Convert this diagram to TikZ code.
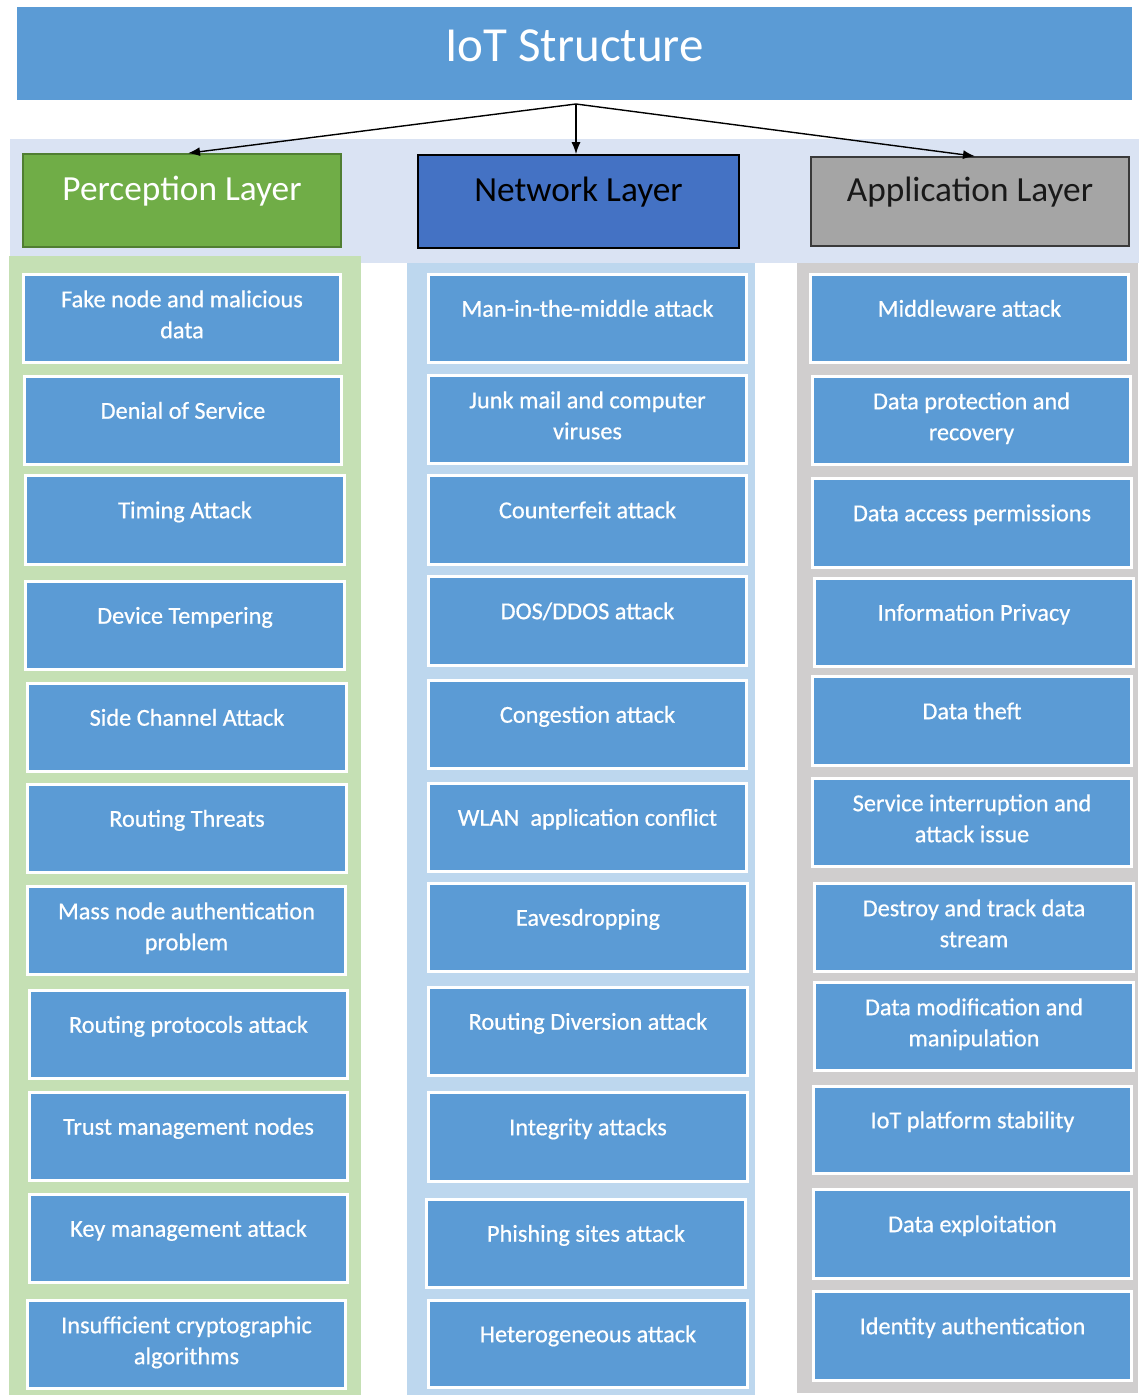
\documentclass[tikz,border=0pt]{standalone}
\usepackage{fontspec}
\setmainfont{Carlito}
\newfontfamily\boxfont{Carlito}[FakeBold=0.6]
\usetikzlibrary{arrows.meta}

\definecolor{titleblue}{HTML}{5B9BD5}
\definecolor{bandblue}{HTML}{DAE3F3}
\definecolor{colgreen}{HTML}{C5E0B4}
\definecolor{colblue}{HTML}{BDD7EE}
\definecolor{colgray}{HTML}{D0CECE}
\definecolor{percgreen}{HTML}{70AD47}
\definecolor{percedge}{HTML}{507E32}
\definecolor{netblue}{HTML}{4472C4}
\definecolor{appgray}{HTML}{A5A5A5}
\definecolor{appedge}{HTML}{3A3A3A}

\tikzset{
  atkbox/.style={draw=white, line width=3pt, fill=titleblue, inner sep=0pt},
  atktext/.style={text=white, align=center, inner sep=0pt,
    font=\boxfont\fontsize{24.3}{31}\selectfont},
  layerbox/.style={line width=1.6pt, inner sep=0pt},
  layertext/.style={align=center, inner sep=0pt,
    font=\fontsize{35.3}{40}\selectfont},
  link/.style={draw=black, line width=1.4pt, -{Latex[length=12pt,width=9pt]}}
}

% name, x1, y1, x2, y2, text, upward shift of the text
\newcommand\atk[7]{%
  \node[atkbox, minimum width={(#4-#2-3)*1pt}, minimum height={(#5-#3-3)*1pt}]
    (#1) at ({(#2+#4)/2},{(#3+#5)/2}) {};
  \node[atktext] (#1-t) at ([yshift=#7pt]#1.center) {#6};
}

\begin{document}
\begin{tikzpicture}[x=1pt, y=-1pt]
\useasboundingbox (0,0) rectangle (1139,1395);
\fill[white] (0,0) rectangle (1139,1395);

% backgrounds: header band and the three column panels
\fill[bandblue] (10,139) rectangle (1139,263);
\fill[colgreen] (9,256) rectangle (361,1395);
\fill[colblue] (407,263) rectangle (755,1395);
\fill[colgray] (797,263) rectangle (1138,1393);

% title bar
\node[fill=titleblue, inner sep=0pt, minimum width=1115pt, minimum height=93pt]
  (title) at (574.5,53.5) {};
\node[text=white, inner sep=0pt, font=\fontsize{49}{56}\selectfont]
  (title-t) at ([yshift=3pt]title.center) {\strut IoT Structure};

% layer headers
\node[layerbox, fill=percgreen, draw=percedge, minimum width=318pt, minimum height=93pt]
  (perc) at (182,200.5) {};
\node[layertext, text=white] (perc-t) at ([yshift=8pt]perc.center) {\strut Perception Layer};
\node[layerbox, fill=netblue, draw=black, minimum width=321pt, minimum height=93pt]
  (net) at (578.5,201.5) {};
\node[layertext, text=black] (net-t) at ([yshift=8pt]net.center) {\strut Network Layer};
\node[layerbox, fill=appgray, draw=appedge, minimum width=318pt, minimum height=89pt]
  (app) at (970,201.5) {};
\node[layertext, text=black!90] (app-t) at ([yshift=8pt]app.center) {\strut Application Layer};

% connectors from the title to the layers
\coordinate (hub) at (576,104);
\draw[link] (hub) -- ([xshift=6pt]perc.north);
\draw[link] (hub) -- (net.north -| hub);
\draw[link] (hub) -- ([xshift=5pt]app.north);

% perception layer threats
\atk{p1}{22}{273}{342}{364}{\strut Fake node and malicious\\\strut data}{2}
\atk{p2}{23}{375}{343}{466}{\strut Denial of Service}{8}
\atk{p3}{24}{474}{346}{566}{\strut Timing Attack}{8}
\atk{p4}{24}{580}{346}{671}{\strut Device Tempering}{8}
\atk{p5}{26}{682}{348}{773}{\strut Side Channel Attack}{8}
\atk{p6}{26}{783}{348}{874}{\strut Routing Threats}{8}
\atk{p7}{26}{885}{347}{976}{\strut Mass node authentication\\\strut problem}{2}
\atk{p8}{28}{989}{349}{1080}{\strut Routing protocols attack}{8}
\atk{p9}{28}{1091}{349}{1182}{\strut Trust management nodes}{8}
\atk{p10}{28}{1193}{349}{1284}{\strut Key management attack}{8}
\atk{p11}{26}{1299}{347}{1390}{\strut Insufficient cryptographic\\\strut algorithms}{2}

% network layer threats
\atk{n1}{427}{273}{748}{364}{\strut Man-in-the-middle attack}{8}
\atk{n2}{427}{374}{748}{465}{\strut Junk mail and computer\\\strut viruses}{2}
\atk{n3}{427}{474}{748}{566}{\strut Counterfeit attack}{8}
\atk{n4}{427}{575}{748}{667}{\strut DOS/DDOS attack}{8}
\atk{n5}{427}{679}{748}{770}{\strut Congestion attack}{8}
\atk{n6}{427}{782}{748}{873}{\strut WLAN\ \ application conflict}{8}
\atk{n7}{427}{882}{749}{973}{\strut Eavesdropping}{8}
\atk{n8}{427}{986}{749}{1077}{\strut Routing Diversion attack}{8}
\atk{n9}{427}{1091}{749}{1183}{\strut Integrity attacks}{8}
\atk{n10}{425}{1198}{747}{1289}{\strut Phishing sites attack}{8}
\atk{n11}{427}{1299}{749}{1389}{\strut Heterogeneous attack}{8}

% application layer threats
\atk{a1}{809}{273}{1130}{364}{\strut Middleware attack}{8}
\atk{a2}{811}{375}{1132}{466}{\strut Data protection and\\\strut recovery}{2}
\atk{a3}{811}{477}{1133}{569}{\strut Data access permissions}{8}
\atk{a4}{813}{577}{1135}{668}{\strut Information Privacy}{8}
\atk{a5}{811}{675}{1133}{767}{\strut Data theft}{8}
\atk{a6}{811}{777}{1133}{868}{\strut Service interruption and\\\strut attack issue}{2}
\atk{a7}{813}{882}{1135}{973}{\strut Destroy and track data\\\strut stream}{2}
\atk{a8}{813}{981}{1135}{1072}{\strut Data modification and\\\strut manipulation}{2}
\atk{a9}{812}{1085}{1133}{1175}{\strut IoT platform stability}{8}
\atk{a10}{812}{1188}{1133}{1280}{\strut Data exploitation}{8}
\atk{a11}{812}{1290}{1133}{1382}{\strut Identity authentication}{8}
\end{tikzpicture}
\end{document}
